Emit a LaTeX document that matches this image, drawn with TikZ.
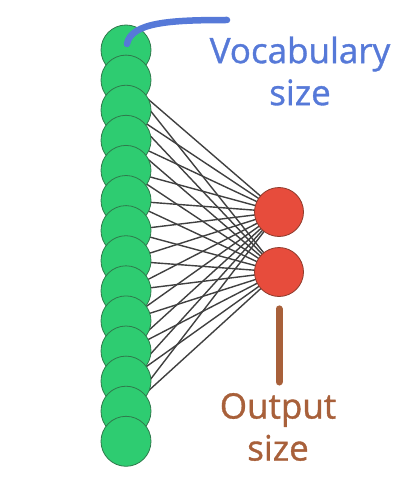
\documentclass[tikz,border=0pt]{standalone}
\usepackage{fontspec}
\setmainfont{Open Sans}
\newfontfamily\tagfont[FakeBold=1]{Open Sans}
\usetikzlibrary{calc,backgrounds}
\definecolor{verdeN}{HTML}{2ECC71}
\definecolor{verdeBorde}{HTML}{2F7A4C}
\definecolor{rojoN}{HTML}{E74C3C}
\definecolor{rojoBorde}{HTML}{8E3B2C}
\definecolor{azulT}{HTML}{5679D8}
\definecolor{marronT}{HTML}{A8603A}
\definecolor{lineaG}{HTML}{404040}

\begin{document}
\begin{tikzpicture}[x=1pt,y=-1pt]
  \useasboundingbox (0,0) rectangle (400,500);
  \tikzset{
    inputnode/.style={circle,fill=verdeN,draw=verdeBorde,line width=0.8pt,
      minimum size=50pt,inner sep=0pt},
    outputnode/.style={circle,fill=rojoN,draw=rojoBorde,line width=0.8pt,
      minimum size=49pt,inner sep=0pt},
    edge/.style={draw=lineaG,line width=1.4pt},
    tag/.style={align=center,font=\tagfont\fontsize{35}{42}\selectfont}
  }
  % input layer
  \foreach \i in {1,...,14}
    \node[inputnode] (v\i) at (126,{50+30.1*(\i-1)}) {};
  % output layer
  \node[outputnode] (o1) at (279,212) {};
  \node[outputnode] (o2) at (279,272) {};
  % connections behind the nodes
  \begin{pgfonlayer}{background}
    \foreach \i in {2,...,13}
      \foreach \j in {1,2}
        \draw[edge] (v\i.center) -- (o\j.center);
  \end{pgfonlayer}
  % labels
  \coordinate (vtip) at (227,20);
  \draw[azulT,line width=6.5pt,line cap=round]
    ($(v1.center)+(1,-6)$) .. controls +(4,-22) and +(-55,0) .. (vtip);
  \node[tag,text=azulT] (vocab) at (300,71) {Vocabulary\\size};
  \coordinate (otip) at (279,382);
  \draw[marronT,line width=7pt,line cap=round]
    ($(o2.south)+(0,12)$) -- (otip);
  \node[tag,text=marronT] (outsz) at (278,427) {Output\\size};
\end{tikzpicture}
\end{document}
